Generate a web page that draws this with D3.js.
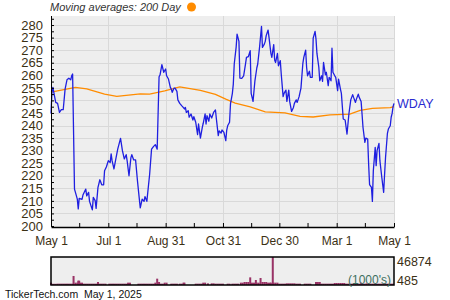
<!DOCTYPE html>
<html>
<head>
<meta charset="utf-8">
<script src="https://cdn.jsdelivr.net/npm/d3@7"></script>
<style>
  body { margin: 0; background: #fff; }
  svg { display: block; font-family: Arial, "Liberation Sans", sans-serif; }
</style>
</head>
<body>
<svg width="450" height="300"></svg>
<script>
// days since May 1, 2024 -> closing price
const startDate = new Date(2024, 4, 1);
const ticker = "WDAY";

const closePrices = [
  [0,244.8],[1,253.2],[2,255.2],[5,249.2],[7,248.8],[9,245.2],[11,246.3],[13,246.3],[15,254.5],[17,258.2],
  [19,258.8],[21,258.2],[22,259.8],[23,260.5],[25,214.7],[26,213.4],[28,210.7],[29,206.8],[30,211.0],[33,210.6],
  [34,212.3],[37,214.7],[38,212.0],[40,213.4],[41,209.8],[44,206.4],[45,211.4],[47,210.1],[48,207.0],[50,215.4],
  [52,218.4],[54,216.4],[56,216.4],[57,222.0],[59,223.6],[61,226.0],[63,225.3],[64,228.7],[65,226.0],[67,222.7],
  [69,226.7],[71,230.6],[74,234.9],[76,230.0],[78,226.7],[80,228.4],[81,226.0],[83,220.0],[85,227.1],[86,228.4],
  [88,226.3],[90,226.3],[92,218.0],[94,210.7],[95,207.2],[97,210.7],[99,209.8],[100,211.7],[102,209.8],[105,220.7],
  [107,230.6],[109,231.6],[111,232.4],[113,230.6],[115,259.4],[116,260.1],[118,264.2],[120,261.2],[122,262.5],[123,259.8],
  [125,258.5],[127,255.2],[128,254.5],[129,253.2],[131,254.9],[132,254.9],[134,253.6],[135,250.2],[137,248.8],[139,247.9],
  [140,247.5],[142,246.6],[143,247.2],[144,245.2],[146,245.9],[147,243.3],[149,244.6],[151,242.2],[152,243.5],[154,241.3],
  [156,236.4],[157,240.6],[159,235.0],[161,239.3],[162,240.9],[164,244.6],[165,240.6],[166,243.9],[168,241.7],[169,244.6],
  [171,243.0],[173,245.2],[175,246.2],[176,242.6],[178,236.0],[179,237.9],[181,237.0],[182,238.2],[184,237.3],[186,234.0],
  [187,238.2],[188,239.9],[190,241.3],[191,248.6],[193,252.8],[194,256.5],[195,264.5],[197,271.1],[198,276.4],[200,273.5],
  [201,258.9],[203,258.8],[205,259.8],[207,264.5],[208,267.1],[210,267.4],[212,269.8],[213,252.8],[215,249.6],[217,257.8],
  [219,262.9],[220,264.5],[222,271.4],[224,279.5],[225,271.1],[227,272.4],[228,273.5],[229,275.8],[231,278.0],[232,275.1],
  [234,268.7],[235,267.1],[237,272.2],[238,266.1],[239,265.1],[241,268.7],[242,263.8],[244,265.8],[245,260.5],[247,251.5],
  [248,252.8],[250,254.1],[251,249.6],[253,254.1],[254,249.6],[256,245.6],[258,247.2],[259,248.8],[261,250.2],[262,249.2],
  [264,251.5],[265,253.2],[266,254.9],[268,264.7],[269,267.1],[271,270.0],[272,263.2],[273,259.8],[275,261.6],[276,259.2],
  [278,259.2],[279,274.8],[281,277.5],[282,274.4],[283,268.7],[285,263.2],[286,257.8],[288,259.8],[289,257.6],[290,265.1],
  [292,260.2],[293,261.2],[295,255.9],[296,259.2],[298,257.8],[299,270.8],[300,261.2],[302,259.8],[303,259.2],[305,253.9],
  [306,258.5],[308,254.5],[309,252.8],[311,242.6],[313,242.2],[315,236.6],[317,244.6],[319,250.2],[321,252.3],[322,251.2],
  [324,249.2],[325,250.5],[327,252.5],[328,251.2],[330,249.6],[331,244.6],[332,239.3],[334,233.3],[335,235.0],[337,234.6],
  [338,224.7],[339,216.5],[341,215.4],[342,209.8],[343,222.0],[345,231.3],[346,224.0],[347,230.0],[349,232.9],[350,226.0],
  [352,219.4],[354,213.4],[355,220.7],[356,227.3],[358,236.9],[359,238.6],[361,239.9],[362,243.3],[363,244.8],[364,247.5],
  [365,248.8]
];

const movingAvg200 = [
  [0,253.3],[26,255.2],[38,254.6],[57,252.5],[70,251.6],[95,252.6],[105,252.5],[121,253.8],[137,255.4],[159,254.0],
  [175,252.4],[186,250.5],[196,248.9],[212,247.4],[228,245.4],[249,245.0],[265,243.6],[279,243.4],[297,244.2],[318,244.5],
  [329,246.0],[342,246.8],[361,247.1],[365,247.5]
];

// volume in thousands
const volume = [
  [0,3900],[1,2000],[3,2000],[5,2000],[7,2230],[9,2230],[11,2230],[13,2230],[15,2230],[17,2230],[19,2230],[21,2230],
  [23,2230],[24,15100],[26,3900],[28,3900],[29,7250],[30,7250],[31,3900],[33,3900],[35,2230],[37,2230],[39,2230],[41,2230],
  [43,2230],[45,2230],[47,2230],[49,2230],[50,5020],[52,2230],[54,2230],[56,2230],[58,2230],[62,2230],[64,2230],[66,2230],
  [68,2230],[70,2230],[72,2230],[74,2230],[76,2230],[78,2230],[80,2230],[82,3900],[84,3900],[93,2230],[95,2230],[97,2230],
  [99,2230],[101,2230],[103,2230],[105,2230],[107,2230],[109,2230],[111,3900],[113,10600],[115,5020],[117,2230],[119,2230],
  [121,3900],[123,3900],[128,2230],[130,2230],[132,2230],[134,2230],[137,2230],[139,2230],[141,3900],[142,3900],[154,2230],
  [156,2230],[158,2230],[160,2230],[162,3900],[164,3900],[167,2790],[171,2790],[173,2790],[175,2230],[177,2230],[179,2230],
  [181,2230],[183,2230],[188,2230],[190,2230],[193,2230],[195,2230],[197,2230],[199,2230],[202,3900],[204,3900],[206,5020],
  [208,5020],[210,5020],[212,12800],[213,3900],[215,3900],[217,3900],[218,8370],[219,3900],[221,3900],[223,11700],[225,5020],
  [227,5020],[229,5020],[231,3900],[233,3900],[234,3900],[236,46874],[237,3900],[239,3900],[241,3900],[243,2230],[245,2230],
  [247,2230],[249,2230],[251,2790],[253,2790],[255,2790],[257,2790],[259,2790],[261,2230],[263,2230],[265,2230],[270,2230],
  [272,2230],[274,2230],[276,2230],[282,5020],[284,5020],[286,5020],[288,2230],[290,2230],[292,2230],[294,2230],[296,2230],
  [298,2230],[300,2230],[302,3350],[304,3350],[306,3350],[308,3350],[310,3350],[312,3350],[314,2230],[316,2230],[318,2230],
  [320,2230],[322,2230],[324,2230],[326,2230],[328,2230],[330,3900],[332,2230],[334,2230],[336,2790],[338,2230],[340,2230],
  [342,2230],[344,2230],[346,2230],[348,2230],[350,2230],[352,2230],[354,2230],[356,2230],[358,2230],[360,2230],[362,2230],
  [364,2230]
];
const volumeMax = 46874;
const volumeMin = 485;

const xMajorDates = ["2024-05-01","2024-07-01","2024-08-31","2024-10-31","2024-12-30","2025-03-01","2025-05-01"];
const xMajorLabels = ["May 1","Jul 1","Aug 31","Oct 31","Dec 30","Mar 1","May 1"];
const xMinorDates = ["2024-05-31","2024-07-31","2024-09-30","2024-11-30","2025-01-29","2025-03-31"];
const yTickLabels = [200,205,210,215,220,225,230,235,240,245,250,255,260,265,270,275,280];

const svg = d3.select("svg");
const labelColor = "#3b3014";
const plot = { left: 51, right: 394, top: 16, bottom: 227 };
const volBox = { top: 257, bottom: 285 };

const parse = d3.timeParse("%Y-%m-%d");
const toDate = d => d3.timeDay.offset(startDate, d);

const x = d3.scaleTime()
  .domain([startDate, parse("2025-05-01")])
  .range([plot.left, plot.right]);
const y = d3.scaleLinear()
  .domain([199.6, 283.6])
  .range([plot.bottom, plot.top]);

// plot background + grid
svg.append("rect")
  .attr("x", plot.left).attr("y", plot.top)
  .attr("width", plot.right - plot.left).attr("height", plot.bottom - plot.top)
  .attr("fill", "#eeeeee");

svg.append("g").selectAll("line")
  .data(yTickLabels.slice(1))
  .enter().append("line")
  .attr("x1", plot.left).attr("x2", plot.right)
  .attr("y1", d => Math.round(y(d)) + 0.5).attr("y2", d => Math.round(y(d)) + 0.5)
  .attr("stroke", "#d9d9d9");

svg.append("g").selectAll("line")
  .data(xMajorDates.slice(1).map(parse))
  .enter().append("line")
  .attr("x1", d => Math.round(x(d)) + 0.5).attr("x2", d => Math.round(x(d)) + 0.5)
  .attr("y1", plot.top).attr("y2", plot.bottom)
  .attr("stroke", "#d9d9d9");

// moving average + price
const line = d3.line()
  .x(d => x(toDate(d[0])))
  .y(d => y(d[1]));

svg.append("path")
  .datum(movingAvg200)
  .attr("d", line)
  .attr("fill", "none")
  .attr("stroke", "#ff8c00")
  .attr("stroke-width", 1.3);

svg.append("path")
  .datum(closePrices)
  .attr("d", line)
  .attr("fill", "none")
  .attr("stroke", "#1f1fe0")
  .attr("stroke-width", 1.3)
  .attr("stroke-linejoin", "round");

// axes
const yMinor = d3.range(200, 283, 2.5);
const yAxis = svg.append("g")
  .attr("transform", `translate(${plot.left},0)`)
  .call(d3.axisLeft(y)
    .tickValues(yMinor)
    .tickSize(-3)
    .tickSizeOuter(0)
    .tickPadding(8)
    .tickFormat(d => yTickLabels.includes(d) ? d : ""));
yAxis.select(".domain").attr("stroke", "#000").attr("d", `M0.5,${plot.top}V${plot.bottom}`);
yAxis.selectAll("text").filter(function () { return this.textContent === ""; }).remove();
yAxis.selectAll("text").attr("font-size", 13).attr("fill", labelColor).attr("font-family", "Arial, 'Liberation Sans', sans-serif");

const xTickDates = xMajorDates.map(parse).concat(xMinorDates.map(parse));
const xAxis = svg.append("g")
  .attr("transform", `translate(0,${plot.bottom})`)
  .call(d3.axisBottom(x)
    .tickValues(xTickDates)
    .tickSize(-4)
    .tickSizeOuter(0)
    .tickPadding(9)
    .tickFormat(d => {
      const i = xMajorDates.findIndex(s => +parse(s) === +d);
      return i >= 0 ? xMajorLabels[i] : "";
    }));
xAxis.select(".domain").attr("stroke", "#000").attr("stroke-width", 1.5);
xAxis.selectAll("text").filter(function () { return this.textContent === ""; }).remove();
xAxis.selectAll("text").attr("font-size", 12).attr("fill", labelColor).attr("font-family", "Arial, 'Liberation Sans', sans-serif");

// ticker label at end of line
const last = closePrices[closePrices.length - 1];
svg.append("text")
  .attr("x", plot.right + 3)
  .attr("y", y(last[1]) + 1)
  .attr("dominant-baseline", "middle")
  .attr("font-size", 12.5)
  .attr("fill", "#2a2ad0")
  .text(ticker);

// legend
svg.append("text")
  .attr("x", 50).attr("y", 11)
  .attr("font-size", 11)
  .attr("font-style", "italic")
  .attr("fill", "#333")
  .text("Moving averages: 200 Day");
svg.append("circle")
  .attr("cx", 191.5).attr("cy", 7).attr("r", 4.5)
  .attr("fill", "#ff8c00");

// volume panel
const yVol = d3.scaleLinear()
  .domain([0, volumeMax])
  .range([volBox.bottom, volBox.top]);

svg.append("rect")
  .attr("x", plot.left).attr("y", volBox.top)
  .attr("width", plot.right - plot.left).attr("height", volBox.bottom - volBox.top)
  .attr("fill", "#eeeeee");

svg.append("g").selectAll("rect")
  .data(volume)
  .enter().append("rect")
  .attr("x", d => x(toDate(d[0])) - 1)
  .attr("y", d => yVol(d[1]))
  .attr("width", 2)
  .attr("height", d => volBox.bottom - yVol(d[1]))
  .attr("fill", "#993366");

svg.append("rect")
  .attr("x", plot.left).attr("y", volBox.top)
  .attr("width", plot.right - plot.left).attr("height", volBox.bottom - volBox.top)
  .attr("fill", "none")
  .attr("stroke", "#000")
  .attr("stroke-width", 1.5);

svg.append("text")
  .attr("x", plot.right - 3).attr("y", 284)
  .attr("text-anchor", "end")
  .attr("font-size", 12)
  .attr("fill", "#3d6e5e")
  .text("(1000's)");

svg.append("text")
  .attr("x", plot.right + 3).attr("y", 263)
  .attr("dominant-baseline", "middle")
  .attr("font-size", 12.5)
  .attr("fill", labelColor)
  .text(volumeMax);
svg.append("text")
  .attr("x", plot.right + 3).attr("y", 282)
  .attr("dominant-baseline", "middle")
  .attr("font-size", 12.5)
  .attr("fill", labelColor)
  .text(volumeMin);

// footer
svg.append("text")
  .attr("x", 5).attr("y", 298)
  .attr("font-size", 10.5)
  .attr("fill", "#111")
  .style("white-space", "pre")
  .text("TickerTech.com  May 1, 2025");
</script>
</body>
</html>
